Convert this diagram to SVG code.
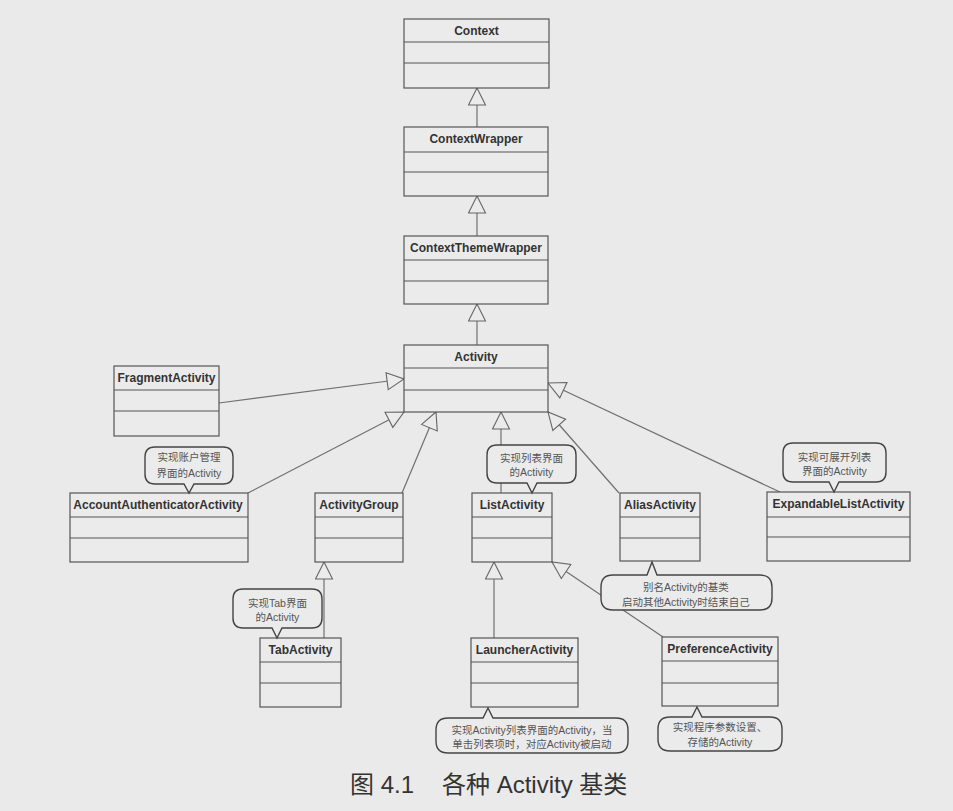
<svg xmlns="http://www.w3.org/2000/svg" width="953" height="811" viewBox="0 0 953 811">
<style>
.bg{fill:#eaeaea}
.box{fill:#ebebeb;stroke:#555;stroke-width:1.2}
.div{stroke:#555;stroke-width:1.1}
.t{font-family:"Liberation Sans",Arial,sans-serif;font-weight:bold;font-size:12px;fill:#333;text-anchor:middle}
.c{fill:none;stroke:#707070;stroke-width:1.2}
.co{fill:#ebebeb;stroke:#444;stroke-width:1.4}
.ct{font-family:"Liberation Sans","Noto Sans CJK SC",sans-serif;font-size:10.5px;fill:#555;text-anchor:middle}
.cap{font-family:"Liberation Sans","Noto Sans CJK SC",sans-serif;font-size:24px;fill:#333}
</style>
<defs>
<marker id="tri" viewBox="-1 -1 20 19" refX="17" refY="8.5" markerWidth="20" markerHeight="19" markerUnits="userSpaceOnUse" orient="auto">
<path d="M0,0 L17,8.5 L0,17 Z" fill="#ebebeb" stroke="#666" stroke-width="1.1"/>
</marker>
</defs>
<rect class="bg" x="0" y="0" width="953" height="811"/>

<g id="connectors">
<line class="c" x1="477" y1="127" x2="477" y2="88" marker-end="url(#tri)"/>
<line class="c" x1="477" y1="236" x2="477" y2="196" marker-end="url(#tri)"/>
<line class="c" x1="477" y1="345" x2="477" y2="304" marker-end="url(#tri)"/>
<line class="c" x1="219" y1="403" x2="404" y2="379" marker-end="url(#tri)"/>
<line class="c" x1="248" y1="493" x2="404" y2="412" marker-end="url(#tri)"/>
<line class="c" x1="402" y1="493" x2="436" y2="412" marker-end="url(#tri)"/>
<line class="c" x1="501" y1="493" x2="501" y2="412" marker-end="url(#tri)"/>
<line class="c" x1="619" y1="493" x2="548" y2="412" marker-end="url(#tri)"/>
<line class="c" x1="780" y1="492" x2="548" y2="383" marker-end="url(#tri)"/>
<line class="c" x1="324" y1="638" x2="324" y2="562" marker-end="url(#tri)"/>
<line class="c" x1="494" y1="638" x2="494" y2="562" marker-end="url(#tri)"/>
<line class="c" x1="663" y1="637" x2="552" y2="562" marker-end="url(#tri)"/>
</g>

<g id="Context">
<rect class="box" x="404" y="19" width="145" height="69"/>
<line class="div" x1="404" y1="42" x2="549" y2="42"/><line class="div" x1="404" y1="63" x2="549" y2="63"/>
<text class="t" x="476.5" y="35">Context</text>
</g>
<g id="ContextWrapper">
<rect class="box" x="404" y="127" width="144" height="69"/>
<line class="div" x1="404" y1="152" x2="548" y2="152"/><line class="div" x1="404" y1="172" x2="548" y2="172"/>
<text class="t" x="476" y="143">ContextWrapper</text>
</g>
<g id="ContextThemeWrapper">
<rect class="box" x="404" y="236" width="144" height="68"/>
<line class="div" x1="404" y1="260" x2="548" y2="260"/><line class="div" x1="404" y1="281" x2="548" y2="281"/>
<text class="t" x="476" y="252">ContextThemeWrapper</text>
</g>
<g id="Activity">
<rect class="box" x="404" y="345" width="144" height="67"/>
<line class="div" x1="404" y1="368" x2="548" y2="368"/><line class="div" x1="404" y1="390" x2="548" y2="390"/>
<text class="t" x="476" y="361">Activity</text>
</g>
<g id="FragmentActivity">
<rect class="box" x="114" y="366" width="105" height="70"/>
<line class="div" x1="114" y1="390" x2="219" y2="390"/><line class="div" x1="114" y1="411" x2="219" y2="411"/>
<text class="t" x="166.5" y="382">FragmentActivity</text>
</g>
<g id="AccountAuthenticatorActivity">
<rect class="box" x="70" y="493" width="178" height="69"/>
<line class="div" x1="70" y1="517" x2="248" y2="517"/><line class="div" x1="70" y1="538" x2="248" y2="538"/>
<text class="t" x="158" y="509">AccountAuthenticatorActivity</text>
</g>
<g id="ActivityGroup">
<rect class="box" x="315" y="493" width="88" height="69"/>
<line class="div" x1="315" y1="517" x2="403" y2="517"/><line class="div" x1="315" y1="538" x2="403" y2="538"/>
<text class="t" x="359" y="509">ActivityGroup</text>
</g>
<g id="ListActivity">
<rect class="box" x="472" y="493" width="80" height="69"/>
<line class="div" x1="472" y1="517" x2="552" y2="517"/><line class="div" x1="472" y1="538" x2="552" y2="538"/>
<text class="t" x="512" y="509">ListActivity</text>
</g>
<g id="AliasActivity">
<rect class="box" x="620" y="493" width="80" height="68"/>
<line class="div" x1="620" y1="517" x2="700" y2="517"/><line class="div" x1="620" y1="538" x2="700" y2="538"/>
<text class="t" x="660" y="509">AliasActivity</text>
</g>
<g id="ExpandableListActivity">
<rect class="box" x="767" y="492" width="143" height="69"/>
<line class="div" x1="767" y1="517" x2="910" y2="517"/><line class="div" x1="767" y1="537" x2="910" y2="537"/>
<text class="t" x="838.5" y="508">ExpandableListActivity</text>
</g>
<g id="TabActivity">
<rect class="box" x="260" y="638" width="81" height="69"/>
<line class="div" x1="260" y1="662" x2="341" y2="662"/><line class="div" x1="260" y1="683" x2="341" y2="683"/>
<text class="t" x="300.5" y="654">TabActivity</text>
</g>
<g id="LauncherActivity">
<rect class="box" x="471" y="638" width="107" height="69"/>
<line class="div" x1="471" y1="662" x2="578" y2="662"/><line class="div" x1="471" y1="683" x2="578" y2="683"/>
<text class="t" x="524.5" y="654">LauncherActivity</text>
</g>
<g id="PreferenceActivity">
<rect class="box" x="662" y="637" width="116" height="69"/>
<line class="div" x1="662" y1="661" x2="778" y2="661"/><line class="div" x1="662" y1="683" x2="778" y2="683"/>
<text class="t" x="720" y="653">PreferenceActivity</text>
</g>

<g id="note-account">
<path class="co" d="M155,447 H223 Q233,447 233,457 V474 Q233,484 223,484 H194 L189,493 L184,484 H155 Q145,484 145,474 V457 Q145,447 155,447 Z"/>
<text class="ct" x="189" y="461">实现账户管理</text>
<text class="ct" x="189" y="477">界面的Activity</text>
</g>
<g id="note-list">
<path class="co" d="M497,445 H566 Q576,445 576,455 V473 Q576,483 566,483 H537 L532,493 L527,483 H497 Q487,483 487,473 V455 Q487,445 497,445 Z"/>
<text class="ct" x="531.5" y="462">实现列表界面</text>
<text class="ct" x="531.5" y="476">的Activity</text>
</g>
<g id="note-expandable">
<path class="co" d="M793,443 H876 Q886,443 886,453 V472 Q886,482 876,482 H839 L834,492 L829,482 H793 Q783,482 783,472 V453 Q783,443 793,443 Z"/>
<text class="ct" x="834.5" y="461">实现可展开列表</text>
<text class="ct" x="834.5" y="475">界面的Activity</text>
</g>
<g id="note-tab">
<path class="co" d="M243,589 H312 Q322,589 322,599 V618 Q322,628 312,628 H282 L277,638 L272,628 H243 Q233,628 233,618 V599 Q233,589 243,589 Z"/>
<text class="ct" x="277.5" y="607">实现Tab界面</text>
<text class="ct" x="277.5" y="621">的Activity</text>
</g>
<g id="note-alias">
<path class="co" d="M613,575 H647 L652,562 L657,575 H760 Q772,575 772,587 V598 Q772,610 760,610 H613 Q601,610 601,598 V587 Q601,575 613,575 Z"/>
<text class="ct" x="686" y="591">别名Activity的基类</text>
<text class="ct" x="686" y="606">启动其他Activity时结束自己</text>
</g>
<g id="note-launcher">
<path class="co" d="M448,718 H483 L488,708 L493,718 H616 Q628,718 628,730 V741 Q628,753 616,753 H448 Q436,753 436,741 V730 Q436,718 448,718 Z"/>
<text class="ct" x="532" y="734">实现Activity列表界面的Activity，当</text>
<text class="ct" x="532" y="748">单击列表项时，对应Activity被启动</text>
</g>
<g id="note-preference">
<path class="co" d="M670,717 H692 L697,707 L702,717 H770 Q782,717 782,729 V739 Q782,751 770,751 H670 Q658,751 658,739 V729 Q658,717 670,717 Z"/>
<text class="ct" x="720" y="731">实现程序参数设置、</text>
<text class="ct" x="720" y="746">存储的Activity</text>
</g>

<g id="caption">
<text class="cap" x="350" y="793">图 4.1</text>
<text class="cap" x="442" y="793">各种 Activity 基类</text>
</g>
</svg>
